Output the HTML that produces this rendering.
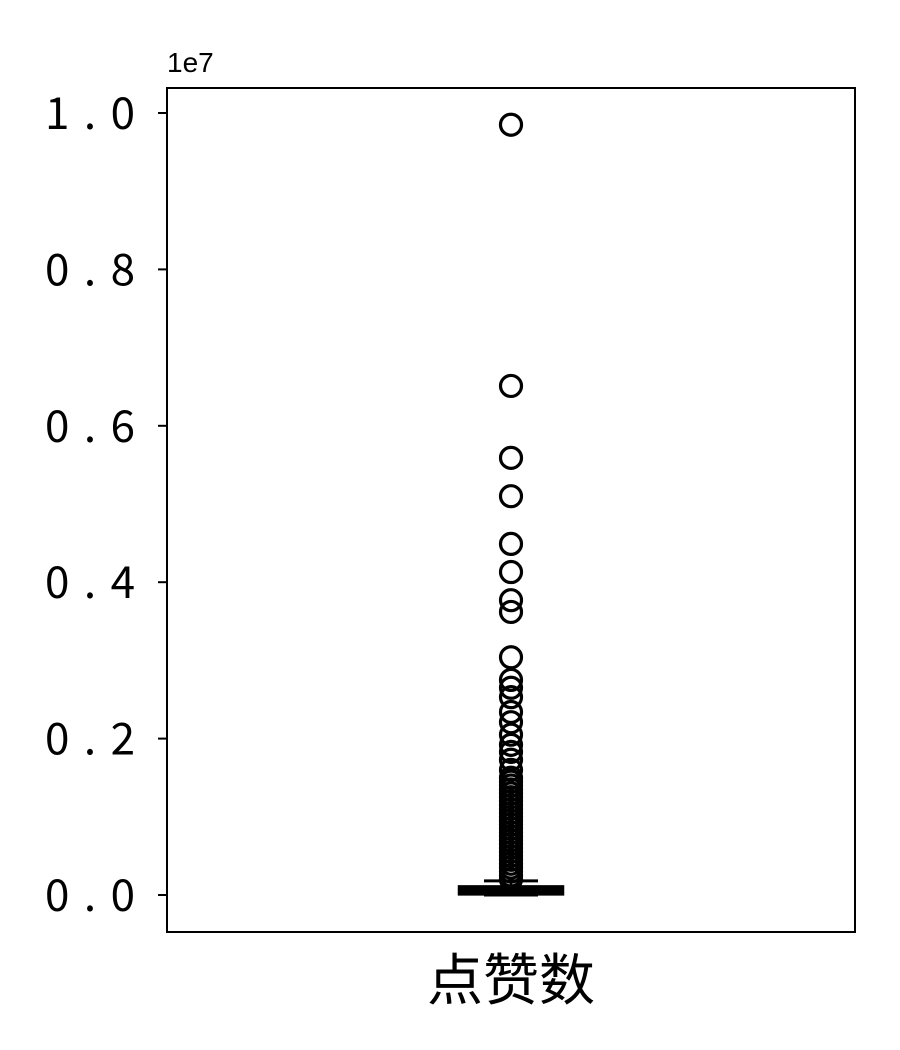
<!DOCTYPE html>
<html><head><meta charset="utf-8"><style>
body{margin:0;background:#fff;}
svg{display:block;font-family:"Liberation Sans","Noto Sans CJK SC",sans-serif;}
</style></head><body>
<svg id="chart" width="900" height="1050" xmlns="http://www.w3.org/2000/svg"></svg>
<script>
const categories=["点赞数"];
const yTicks=[0,0.2,0.4,0.6,0.8,1.0];
const yTickLabels=["0.0","0.2","0.4","0.6","0.8","1.0"];
const boxStats=[{whiskerLow:0,q1:0.0008,median:0.003,q3:0.011,whiskerHigh:0.018}];
const outliers=[0.985,0.651,0.559,0.510,0.449,0.413,0.377,0.362,0.304,0.275,0.265,0.253,0.234,0.221,0.205,0.192,0.183,0.173,0.160,0.150,0.145,0.140,0.135,0.130,0.125,0.120,0.115,0.110,0.105,0.100,0.095,0.090,0.085,0.080,0.075,0.070,0.065,0.060,0.055,0.050,0.045,0.040,0.035,0.030,0.025,0.020];
const L=167,R=855,T=88,B=932;
const y=v=>895-v*782;
const x=i=>L+(R-L)*(i+0.5)/categories.length;
const s=document.getElementById('chart');const NS="http://www.w3.org/2000/svg";
function mk(t,a,p){const e=document.createElementNS(NS,t);for(const k in a)e.setAttribute(k,a[k]);(p||s).appendChild(e);return e;}
const frame=mk('rect',{x:L,y:T,width:R-L,height:B-T,fill:'none',stroke:'#000','stroke-width':2});


yTicks.forEach((v,i)=>{
 const tk=mk('line',{x1:L-9,x2:L,y1:y(v),y2:y(v),stroke:'#000','stroke-width':2});
 
 
 const t=mk('text',{x:45,y:y(v)+16,'font-size':44,textLength:90,lengthAdjust:'spacing','font-family':'"WenQuanYi Zen Hei","Noto Sans CJK SC",sans-serif'});t.textContent=yTickLabels[i];
 
 
});
const off=mk('text',{x:167,y:72,'font-size':28});off.textContent='1e7';


categories.forEach((c,i)=>{
 const cx=x(i),b=boxStats[i];
 const g=mk('g',{});
 
 
 mk('line',{x1:cx,x2:cx,y1:y(b.q3),y2:y(b.whiskerHigh),stroke:'#000','stroke-width':2.5},g);
 mk('line',{x1:cx-27,x2:cx+27,y1:y(b.whiskerHigh),y2:y(b.whiskerHigh),stroke:'#000','stroke-width':3},g);
 mk('line',{x1:cx-27,x2:cx+27,y1:y(b.whiskerLow),y2:y(b.whiskerLow),stroke:'#000','stroke-width':3},g);
 mk('rect',{x:cx-52,y:y(b.q3),width:104,height:Math.max(2,y(b.q1)-y(b.q3)),fill:'#000',stroke:'#000','stroke-width':2.5},g);
 outliers.forEach(v=>{
  const o=mk('circle',{cx:cx,cy:y(v),r:10.5,fill:'none',stroke:'#000','stroke-width':3.2});
  
  
 });
 const lab=mk('text',{x:cx,y:1000,'text-anchor':'middle','font-size':56,'font-family':'"WenQuanYi Zen Hei","Noto Sans CJK SC",sans-serif'});lab.textContent=c;
 
 
});
</script>
</body></html>
